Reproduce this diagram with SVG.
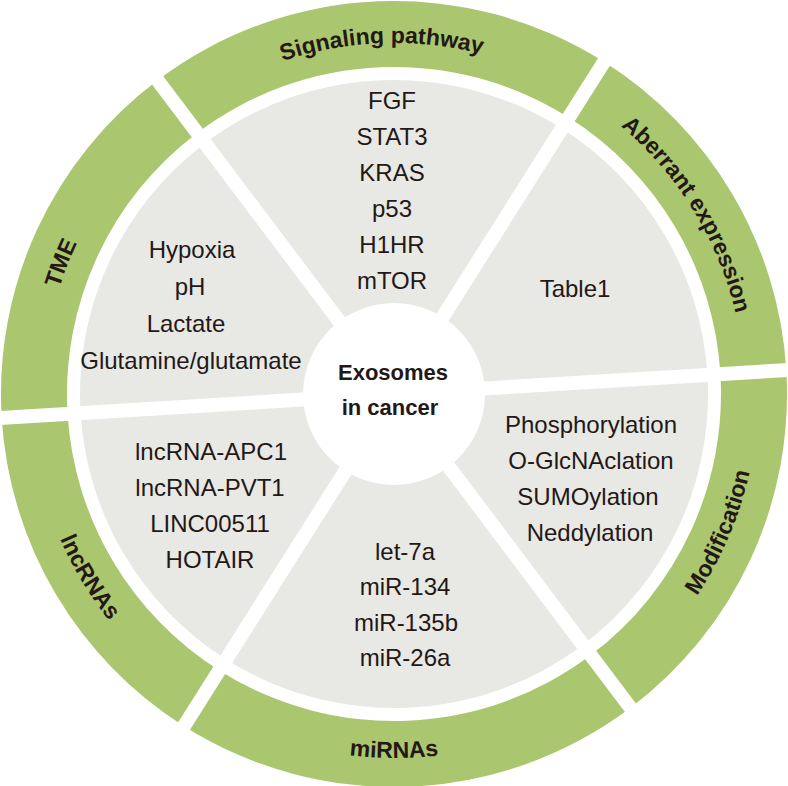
<svg xmlns="http://www.w3.org/2000/svg" width="788" height="786" viewBox="0 0 788 786">
<style>
.ring{fill:#AAC66E}
.sec{fill:#E8E8E5}
.item{font-family:"Liberation Sans",Arial,sans-serif;font-size:24px;fill:#231815;text-anchor:middle}
.lab{font-family:"Liberation Sans",Arial,sans-serif;font-size:23px;font-weight:bold;fill:#231815}
.ctr{font-family:"Liberation Sans",Arial,sans-serif;font-size:22px;font-weight:bold;fill:#231815;text-anchor:middle}
.gap{stroke:#FFFFFF;stroke-width:14;fill:none}
</style>
<defs>
<path id="pSig" d="M117.4,177.9 A351,351 0 0 1 654.8,159.1"/>
<path id="pAbe" d="M445.9,46.9 A351,351 0 0 1 726.9,505.4"/>
<path id="pTME" d="M85.5,561.5 A351,351 0 0 1 282.6,61.1"/>
<path id="pMod" d="M500.4,742.1 A364,364 0 0 0 718.3,228.7"/>
<path id="pMir" d="M115.2,628.0 A364,364 0 0 0 672.8,628.0"/>
<path id="pLnc" d="M49.8,275.5 A364,364 0 0 0 337.1,753.5"/>
</defs>
<rect width="788" height="786" fill="#FFFFFF"/>

<g id="signaling">
<path class="ring" d="M157.5,80.2 A393,393 0 0 1 604.0,61.8 L568.8,117.6 A327,327 0 0 0 197.2,132.9 Z"/>
<path class="sec" d="M394,394 L205.0,143.2 A314,314 0 0 1 561.8,128.6 Z"/>
<text class="lab"><textPath href="#pSig" startOffset="50%" text-anchor="middle">Signaling pathway</textPath></text>
<text class="item" x="392" y="109">FGF</text>
<text class="item" x="392" y="145">STAT3</text>
<text class="item" x="392" y="181">KRAS</text>
<text class="item" x="392" y="217">p53</text>
<text class="item" x="392" y="253">H1HR</text>
<text class="item" x="392" y="289">mTOR</text>
</g>

<g id="aberrant">
<path class="ring" d="M604.0,61.8 A393,393 0 0 1 786.3,370.0 L720.4,374.0 A327,327 0 0 0 568.8,117.6 Z"/>
<path class="sec" d="M394,394 L561.8,128.6 A314,314 0 0 1 707.4,374.8 Z"/>
<text class="lab"><textPath href="#pAbe" startOffset="50%" text-anchor="middle">Aberrant expression</textPath></text>
<text class="item" x="575" y="297">Table1</text>
</g>

<g id="modification">
<path class="ring" d="M786.3,370.0 A393,393 0 0 1 630.5,707.8 L590.8,655.1 A327,327 0 0 0 720.4,374.0 Z"/>
<path class="sec" d="M394,394 L707.4,374.8 A314,314 0 0 1 583.0,644.8 Z"/>
<text class="lab"><textPath href="#pMod" startOffset="50%" text-anchor="middle">Modification</textPath></text>
<text class="item" x="591" y="433">Phosphorylation</text>
<text class="item" x="591" y="469">O-GlcNAclation</text>
<text class="item" x="588" y="505">SUMOylation</text>
<text class="item" x="590" y="541">Neddylation</text>
</g>

<g id="mirnas">
<path class="ring" d="M630.5,707.8 A393,393 0 0 1 184.0,726.2 L219.2,670.4 A327,327 0 0 0 590.8,655.1 Z"/>
<path class="sec" d="M394,394 L583.0,644.8 A314,314 0 0 1 226.2,659.4 Z"/>
<text class="lab"><textPath href="#pMir" startOffset="50%" text-anchor="middle">miRNAs</textPath></text>
<text class="item" x="405" y="560">let-7a</text>
<text class="item" x="405" y="595">miR-134</text>
<text class="item" x="406" y="631">miR-135b</text>
<text class="item" x="405" y="666">miR-26a</text>
</g>

<g id="lncrnas">
<path class="ring" d="M184.0,726.2 A393,393 0 0 1 1.7,418.0 L67.6,414.0 A327,327 0 0 0 219.2,670.4 Z"/>
<path class="sec" d="M394,394 L226.2,659.4 A314,314 0 0 1 80.6,413.2 Z"/>
<text class="lab"><textPath href="#pLnc" startOffset="50%" text-anchor="middle">lncRNAs</textPath></text>
<text class="item" x="211" y="460">lncRNA-APC1</text>
<text class="item" x="210" y="496">lncRNA-PVT1</text>
<text class="item" x="210" y="532">LINC00511</text>
<text class="item" x="210" y="568">HOTAIR</text>
</g>

<g id="tme">
<path class="ring" d="M1.7,418.0 A393,393 0 0 1 157.5,80.2 L197.2,132.9 A327,327 0 0 0 67.6,414.0 Z"/>
<path class="sec" d="M394,394 L80.6,413.2 A314,314 0 0 1 205.0,143.2 Z"/>
<text class="lab"><textPath href="#pTME" startOffset="50%" text-anchor="middle">TME</textPath></text>
<text class="item" x="192" y="258">Hypoxia</text>
<text class="item" x="190" y="295">pH</text>
<text class="item" x="186" y="332">Lactate</text>
<text class="item" x="191" y="369">Glutamine/glutamate</text>
</g>

<g id="separators">
<line class="gap" x1="147.3" y1="66.6" x2="640.7" y2="721.4"/>
<line class="gap" x1="613.1" y1="47.5" x2="174.9" y2="740.5"/>
<line class="gap" x1="803.2" y1="369.0" x2="-15.2" y2="419.0"/>
</g>

<g id="center">
<circle cx="394" cy="394" r="91" fill="#FFFFFF"/>
<text class="ctr" x="393" y="380">Exosomes</text>
<text class="ctr" x="390" y="415">in cancer</text>
</g>
</svg>
